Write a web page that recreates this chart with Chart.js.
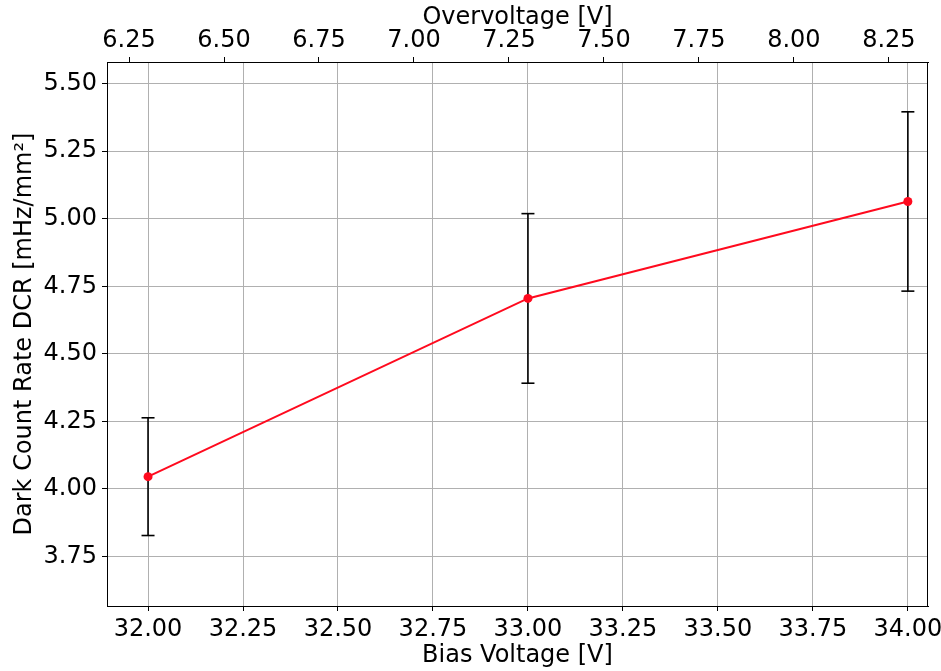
<!DOCTYPE html>
<html>
<head>
<meta charset="utf-8">
<script src="https://cdn.jsdelivr.net/npm/chart.js@4/dist/chart.umd.min.js"></script>
<style>
html,body{margin:0;padding:0;background:#fff;}
#wrap{width:941px;height:671px;}
</style>
</head>
<body>
<div id="wrap"><canvas id="c" width="941" height="671"></canvas></div>
<script>
// ---- data ----
const biasVoltage = [32.0, 33.0, 34.0];
const dcr = [4.045, 4.705, 5.064];
const dcrErr = [0.218, 0.314, 0.332];
const breakdownVoltage = 25.7;
const biasTicks = [32.00, 32.25, 32.50, 32.75, 33.00, 33.25, 33.50, 33.75, 34.00];
const overTicks = [6.25, 6.50, 6.75, 7.00, 7.25, 7.50, 7.75, 8.00, 8.25];
const dcrTicks = [3.75, 4.00, 4.25, 4.50, 4.75, 5.00, 5.25, 5.50];
const xRange = [31.892, 34.053];
const yRange = [3.566, 5.5805];

const FONT = 'DejaVu Sans';
const FS = 24;
const mainData = biasVoltage.map((x, i) => ({x: x, y: dcr[i]}));
const errSets = biasVoltage.map((x, i) => ({
  type: 'line',
  data: [{x: x, y: dcr[i] - dcrErr[i]}, {x: x, y: dcr[i] + dcrErr[i]}],
  borderColor: '#000',
  borderWidth: 1.6,
  pointStyle: 'line',
  pointRadius: 6.5,
  pointBorderWidth: 1.6,
  pointBorderColor: '#000',
  pointBackgroundColor: '#000',
  pointHoverRadius: 6.5,
  order: 1,
  xAxisID: 'x', yAxisID: 'y'
}));

const frame = {
  id: 'frame',
  afterDraw(chart) {
    const a = chart.chartArea, ctx = chart.ctx;
    ctx.save();
    ctx.strokeStyle = '#000';
    ctx.lineWidth = 1;
    ctx.strokeRect(Math.round(a.left) + 0.5, Math.round(a.top) + 0.5,
                   Math.round(a.right - a.left) - 1, Math.round(a.bottom - a.top));
    ctx.restore();
  }
};

function noSidePad(ax) { ax.paddingLeft = 0; ax.paddingRight = 0; }

new Chart(document.getElementById('c'), {
  type: 'line',
  data: {
    datasets: [{
      data: mainData,
      borderColor: '#ff0a1e',
      backgroundColor: '#ff0a1e',
      borderWidth: 2,
      pointRadius: 4.5,
      pointHoverRadius: 4.5,
      pointBorderWidth: 0,
      tension: 0,
      order: 0,
      xAxisID: 'x', yAxisID: 'y'
    }, ...errSets]
  },
  options: {
    responsive: false,
    animation: false,
    events: [],
    layout: {padding: {left: 0, right: 13, top: 0, bottom: 0}},
    plugins: {legend: {display: false}, tooltip: {enabled: false}},
    scales: {
      x: {
        type: 'linear', position: 'bottom',
        min: xRange[0], max: xRange[1],
        afterBuildTicks: ax => { ax.ticks = biasTicks.map(v => ({value: v})); },
        afterFit: ax => { ax.height = 65; noSidePad(ax); },
        ticks: {callback: v => v.toFixed(2), color: '#000', font: {family: FONT, size: FS}, padding: 4, maxRotation: 0, autoSkip: false},
        grid: {color: '#b0b0b0', lineWidth: 1, tickLength: 5, tickColor: '#000', drawTicks: true},
        border: {color: '#000', width: 1},
        title: {display: true, text: 'Bias Voltage [V]', color: '#000', font: {family: FONT, size: FS}, padding: {top: 0, bottom: 1}}
      },
      x2: {
        type: 'linear', position: 'top',
        min: xRange[0] - breakdownVoltage, max: xRange[1] - breakdownVoltage,
        afterBuildTicks: ax => { ax.ticks = overTicks.map(v => ({value: v})); },
        afterFit: ax => { ax.height = 62; noSidePad(ax); },
        ticks: {callback: v => v.toFixed(2), color: '#000', font: {family: FONT, size: FS}, padding: 2, maxRotation: 0, autoSkip: false},
        grid: {drawOnChartArea: false, tickLength: 5, tickColor: '#000'},
        border: {color: '#000', width: 1},
        title: {display: true, text: 'Overvoltage [V]', color: '#000', font: {family: FONT, size: FS}, padding: {top: 3, bottom: 0}}
      },
      y: {
        type: 'linear', position: 'left',
        min: yRange[0], max: yRange[1],
        afterBuildTicks: ax => { ax.ticks = dcrTicks.map(v => ({value: v})); },
        afterFit: ax => { ax.width = 107; },
        ticks: {callback: v => v.toFixed(2), color: '#000', font: {family: FONT, size: FS}, padding: 5, autoSkip: false},
        grid: {color: '#b0b0b0', lineWidth: 1, tickLength: 5, tickColor: '#000'},
        border: {color: '#000', width: 1},
        title: {display: true, text: 'Dark Count Rate DCR [mHz/mm²]', color: '#000', font: {family: FONT, size: FS}, padding: {top: 10, bottom: 0}}
      }
    }
  },
  plugins: [frame]
});
</script>
</body>
</html>
